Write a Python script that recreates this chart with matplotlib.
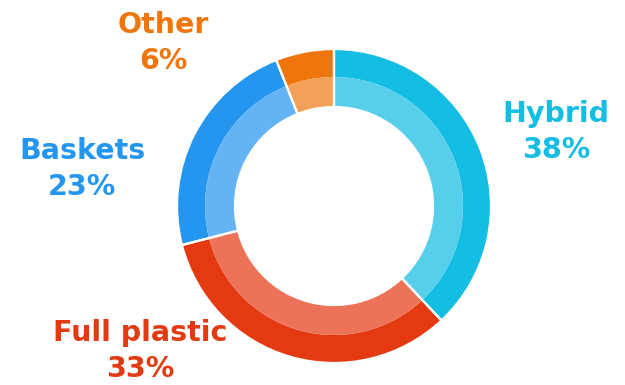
import matplotlib
matplotlib.use("Agg")
import matplotlib.pyplot as plt

# ---- data ----
labels = ["Hybrid", "Full plastic", "Baskets", "Other"]
shares = [38, 33, 23, 6]
outer_colors = ["#14BDE3", "#E33A12", "#2596F0", "#EF760D"]
inner_colors = ["#58CFEA", "#EC7358", "#64B4F5", "#F4A058"]

# label anchor points (pixels from bottom-left)
label_xy = [(556, 253), (140, 34), (82, 216), (163, 342)]

plt.rcParams["font.family"] = ["DejaVu Sans"]

fig = plt.figure(figsize=(6.25, 3.85), dpi=100)
ax = fig.add_axes([0, 0, 1, 1])
ax.set_xlim(0, 625)
ax.set_ylim(0, 385)
ax.set_aspect("equal")
ax.axis("off")

cx, cy = 334, 179
r_out, r_mid, r_in = 157, 129, 99

ax.pie(shares, radius=r_out, center=(cx, cy), colors=outer_colors,
       startangle=90, counterclock=False,
       wedgeprops=dict(width=r_out - r_mid, edgecolor="none"))
ax.pie(shares, radius=r_mid, center=(cx, cy), colors=inner_colors,
       startangle=90, counterclock=False,
       wedgeprops=dict(width=r_mid - r_in, edgecolor="none"))
# white separators through both rings
ax.pie(shares, radius=r_out, center=(cx, cy), colors=["none"] * len(shares),
       startangle=90, counterclock=False,
       wedgeprops=dict(width=r_out - r_in, edgecolor="white", linewidth=1.6))
ax.set_xlim(0, 625)
ax.set_ylim(0, 385)

for lab, val, col, (x, y) in zip(labels, shares, outer_colors, label_xy):
    ax.text(x, y, f"{lab}\n{val}%", color=col, fontsize=20.5, fontweight="bold",
            ha="center", va="center", linespacing=1.4)

fig.savefig("out.png", dpi=100)
